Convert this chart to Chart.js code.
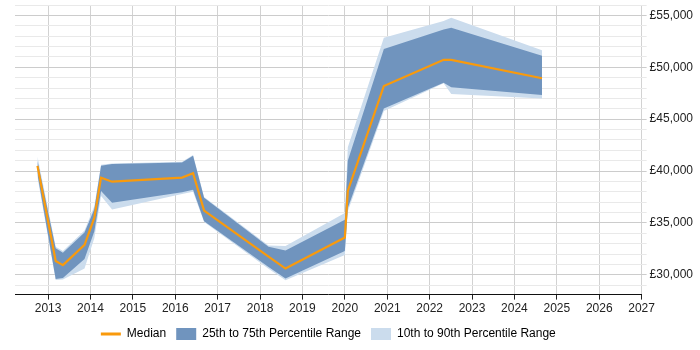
<!DOCTYPE html>
<html>
<head>
<meta charset="utf-8">
<script src="https://cdn.jsdelivr.net/npm/chart.js@4.4.0/dist/chart.umd.min.js"></script>
<style>
  html, body { margin: 0; padding: 0; background: #fff; }
</style>
</head>
<body>
<canvas id="salary-chart" width="700" height="350"></canvas>
<script>
// data
const years  = [2012.75, 2013.18, 2013.35, 2013.86, 2014.09, 2014.25, 2014.51, 2016.16, 2016.42, 2016.68, 2018.2, 2018.6, 2020.0, 2020.07, 2020.92, 2022.33, 2022.51, 2024.65]
const p10    = [39400, 29500, 29560, 30610, 33530, 37590, 36300, 37800, 38000, 35100, 30600, 29480, 31920, 36130, 45800, 48460, 47420, 47000]
const p25    = [39700, 29600, 29700, 31530, 34180, 38080, 36940, 37950, 38200, 35160, 30750, 29640, 32300, 36450, 46030, 48520, 48070, 47320]
const median = [40500, 31330, 30940, 32890, 35480, 39370, 38980, 39370, 39800, 36200, 31750, 30610, 33600, 38080, 48200, 50720, 50720, 48940]
const p75    = [41000, 32560, 32140, 34090, 36320, 40510, 40670, 40830, 41480, 37420, 32720, 32340, 35320, 41000, 51770, 53640, 53810, 51110]
const p90    = [41400, 32700, 32300, 34280, 36620, 40600, 40730, 40900, 41550, 37500, 32820, 32790, 35960, 42290, 52840, 54450, 54780, 51630]

// axis ticks
const xTicks = [2013, 2014, 2015, 2016, 2017, 2018, 2019, 2020, 2021, 2022, 2023, 2024, 2025, 2026, 2027]
const yLabelled = [30000, 35000, 40000, 45000, 50000, 55000]

const orange = '#f99a0c'
const darkBlue = 'rgb(112,148,190)'
const lightBlue = 'rgb(203,220,237)'
const fontFamily = '"Liberation Sans", Arial, sans-serif'

const toPoints = (vals) => vals.map((v, i) => ({ x: years[i], y: v }))

// minor grid every 1000
const yGrid = []
for (let v = 29000; v <= 56000; v += 1000) yGrid.push(v)

new Chart('salary-chart', {
    type: 'line',
    data: {
        datasets: [
            {
                label: 'Median',
                data: toPoints(median),
                borderColor: orange,
                backgroundColor: orange,
                borderWidth: 2.2,
                pointRadius: 0,
                fill: false,
                tension: 0
            },
            {
                label: '25th to 75th Percentile Range',
                data: toPoints(p75),
                borderWidth: 0,
                borderColor: 'transparent',
                backgroundColor: darkBlue,
                pointRadius: 0,
                fill: '+1'
            },
            {
                label: 'p25',
                data: toPoints(p25),
                borderWidth: 0,
                borderColor: 'transparent',
                pointRadius: 0,
                fill: false
            },
            {
                label: '10th to 90th Percentile Range',
                data: toPoints(p90),
                borderWidth: 0,
                borderColor: 'transparent',
                backgroundColor: lightBlue,
                pointRadius: 0,
                fill: '+1'
            },
            {
                label: 'p10',
                data: toPoints(p10),
                borderWidth: 0,
                borderColor: 'transparent',
                pointRadius: 0,
                fill: false
            }
        ]
    },
    options: {
        responsive: false,
        animation: false,
        layout: { padding: { left: 15, top: 5, right: 4, bottom: 0 } },
        scales: {
            x: {
                type: 'linear',
                min: 2012.22,
                max: 2027,
                afterBuildTicks: (axis) => { axis.ticks = xTicks.map(v => ({ value: v })) },
                ticks: {
                    autoSkip: false,
                    maxRotation: 0,
                    padding: 2,
                    color: '#222',
                    font: { family: fontFamily, size: 12 },
                    callback: (v) => String(v)
                },
                grid: { color: '#d2d2d2', tickColor: '#222', tickLength: 5 },
                border: { color: '#111', width: 1 }
            },
            y: {
                position: 'right',
                min: 28100,
                max: 56000,
                afterBuildTicks: (axis) => { axis.ticks = yGrid.map(v => ({ value: v })) },
                // the unlabelled top tick should not push the plot down
                afterFit: (axis) => { axis.paddingTop = 0; axis.paddingBottom = 0 },
                ticks: {
                    autoSkip: false,
                    padding: 3,
                    color: '#222',
                    font: { family: fontFamily, size: 12 },
                    callback: (v) => yLabelled.includes(v) ? '£' + v.toLocaleString('en-GB') : ''
                },
                grid: {
                    color: (ctx) => ctx.tick && ctx.tick.value % 5000 === 0 ? '#cccccc' : '#e9e9e9',
                    tickLength: 5
                },
                border: { display: false }
            }
        },
        plugins: {
            tooltip: { enabled: false },
            legend: {
                position: 'bottom',
                fullSize: false,
                labels: {
                    usePointStyle: true,
                    pointStyleWidth: 20,
                    boxHeight: 12,
                    padding: 10,
                    color: '#222',
                    font: { family: fontFamily, size: 12 },
                    filter: (item) => item.text !== 'p25' && item.text !== 'p10',
                    generateLabels: (chart) => chart.data.datasets.map((ds, i) => ({
                        text: ds.label,
                        datasetIndex: i,
                        pointStyle: i === 0 ? 'line' : 'rect',
                        fillStyle: i === 0 ? orange : ds.backgroundColor,
                        strokeStyle: i === 0 ? orange : 'transparent',
                        lineWidth: i === 0 ? 3 : 0,
                        hidden: false
                    }))
                }
            }
        }
    }
})
</script>
</body>
</html>
